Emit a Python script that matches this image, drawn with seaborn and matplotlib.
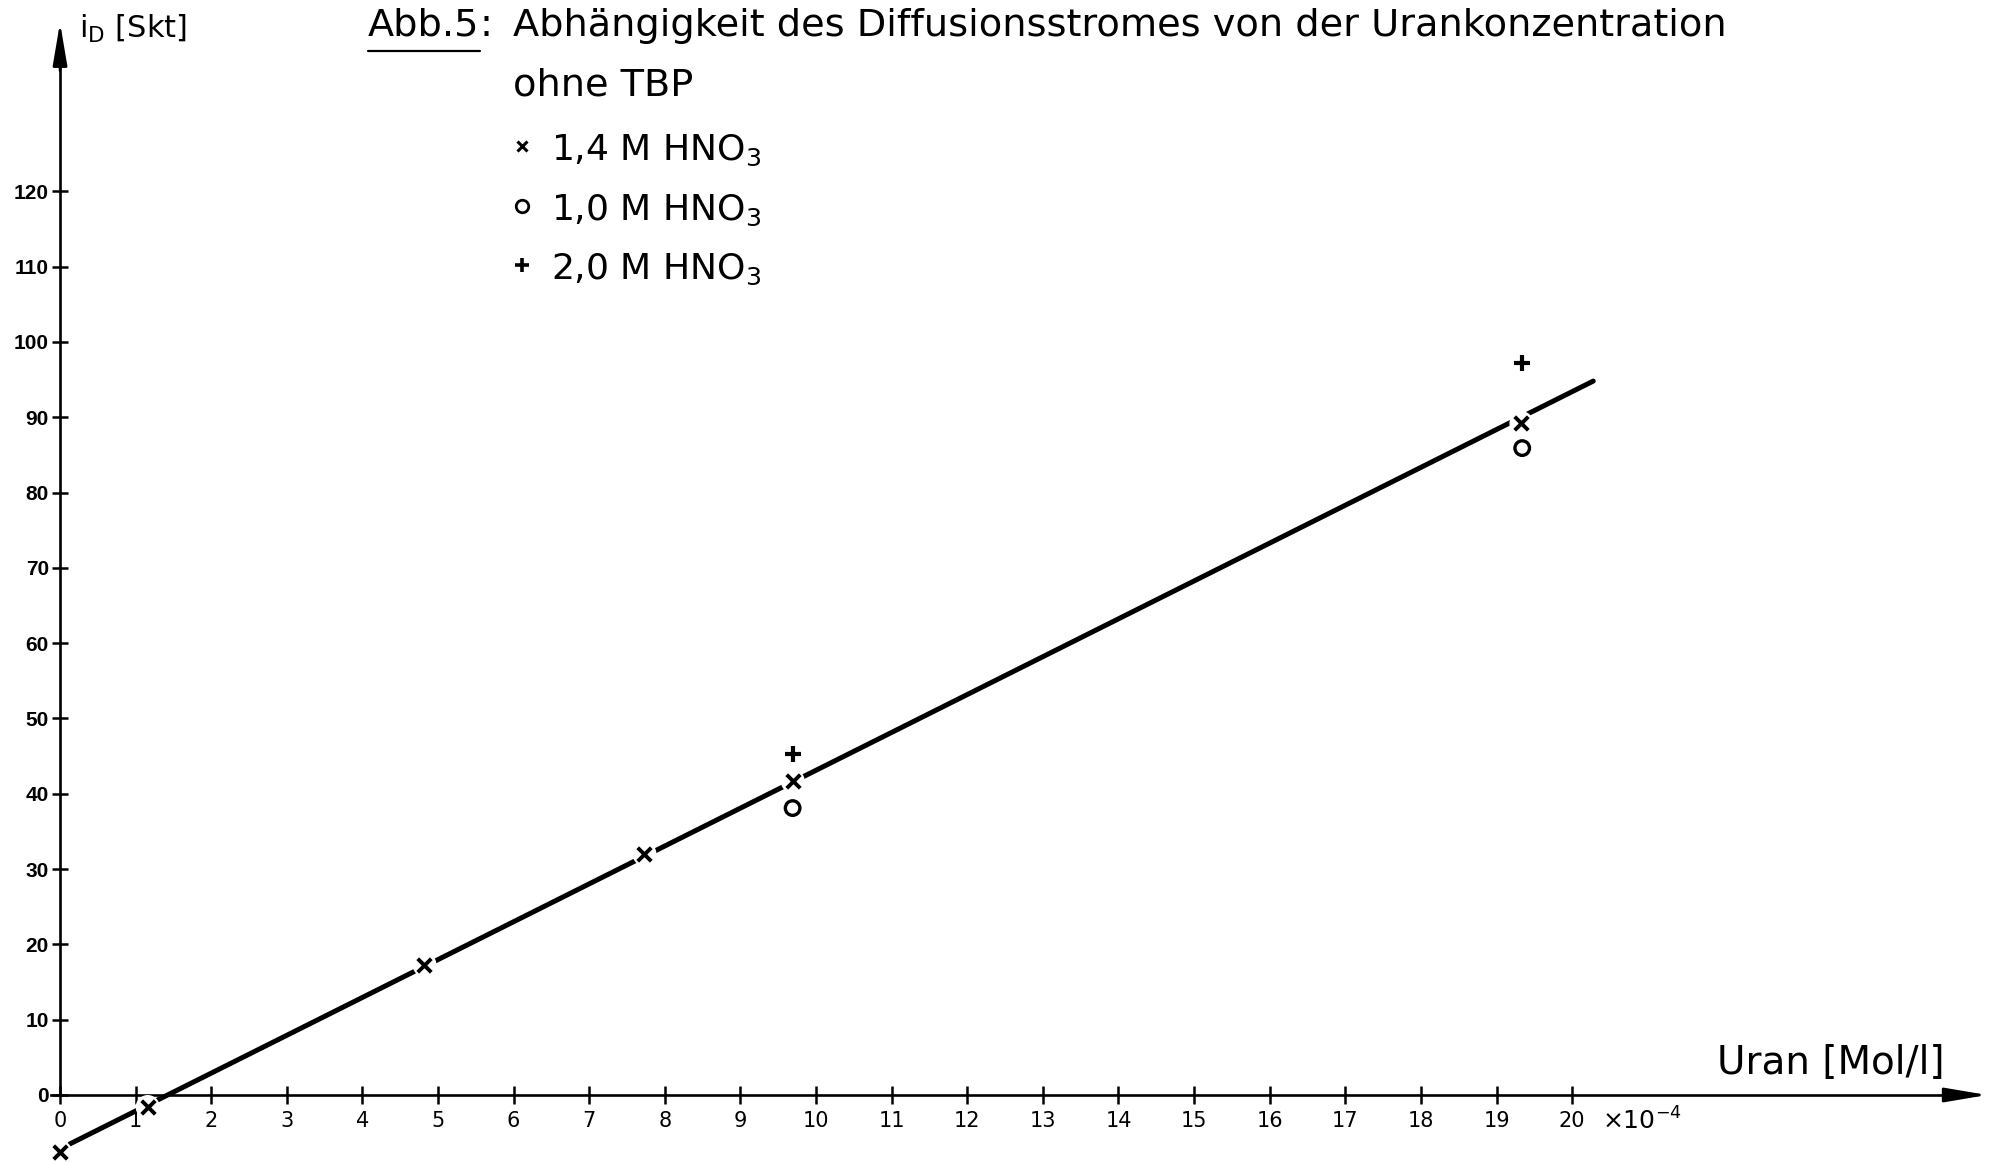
import matplotlib
matplotlib.use("Agg")
import matplotlib.pyplot as plt
import seaborn as sns
from matplotlib.lines import Line2D

# ---------------- data ----------------
x_14 = [0.0, 1.16, 4.82, 7.73, 9.69, 19.33]      # 1,4 M HNO3  (x markers)
y_14 = [-7.6, -1.6, 17.3, 32.0, 41.7, 89.2]
x_10 = [9.69, 19.34]                               # 1,0 M HNO3  (o markers)
y_10 = [38.1, 85.9]
x_20 = [9.69, 19.34]                               # 2,0 M HNO3  (+ markers)
y_20 = [45.3, 97.2]
fit_x = [0.13, 20.28]                              # straight line drawn through the points
fit_y = [-6.5, 94.8]
x_ticks = list(range(0, 21))
y_ticks = list(range(0, 121, 10))
title_prefix = "Abb.5"
title_text = "Abhängigkeit des Diffusionsstromes von der Urankonzentration"
subtitle_text = "ohne TBP"
series_labels = ["1,4 M HNO$_3$", "1,0 M HNO$_3$", "2,0 M HNO$_3$"]
series_markers = ["x", "o", "+"]
y_label = "i$_D$ [Skt]"
x_label = "Uran [Mol/l]"
x_scale_label = "×10$^{-4}$"

# ---------------- style ----------------
sns.set_theme(style="ticks")
FAM = ["DejaVu Sans"]
plt.rcParams["font.family"] = FAM
plt.rcParams["mathtext.default"] = "regular"
plt.rcParams["axes.edgecolor"] = "black"
plt.rcParams["xtick.color"] = "black"
plt.rcParams["ytick.color"] = "black"
plt.rcParams["text.color"] = "black"

W, H = 1997, 1163
fig = plt.figure(figsize=(W / 100, H / 100), dpi=100)
ax = fig.add_axes([0, 0, 1, 1])
ax.set_xlim(-0.794, 25.62)
ax.set_ylim(-9.03, 145.4)

# axes crossing at the origin
for s in ("top", "right"):
    ax.spines[s].set_visible(False)
ax.spines["left"].set_position(("data", 0))
ax.spines["bottom"].set_position(("data", 0))
ax.spines["left"].set_bounds(0, 140)
ax.spines["bottom"].set_bounds(-0.12, 25.2)
ax.spines["left"].set_linewidth(1.9)
ax.spines["bottom"].set_linewidth(1.9)
ax.annotate("", xy=(0, 142.4), xytext=(0, 136),
            arrowprops=dict(arrowstyle="-|>,head_length=1.3,head_width=0.22",
                            color="black", lw=1.9, mutation_scale=20, shrinkA=0, shrinkB=0))
ax.annotate("", xy=(25.49, 0), xytext=(24.9, 0),
            arrowprops=dict(arrowstyle="-|>,head_length=1.3,head_width=0.22",
                            color="black", lw=1.9, mutation_scale=20, shrinkA=0, shrinkB=0))

ax.set_xticks(x_ticks)
ax.set_xticklabels([str(v) for v in x_ticks])
ax.set_yticks(y_ticks)
ax.set_yticklabels([str(v) for v in y_ticks])
ax.tick_params(axis="x", direction="inout", length=13, width=1.8, labelsize=15, pad=5,
               labelcolor="black")
ax.tick_params(axis="y", direction="inout", length=12, width=1.8, labelsize=15, pad=2,
               labelcolor="black")
for lab in ax.get_yticklabels():
    lab.set_fontfamily(["Liberation Sans", "DejaVu Sans"])
    lab.set_fontweight("bold")
ax.set_xlabel("")
ax.set_ylabel("")

# ---------------- data marks ----------------
sns.lineplot(x=fit_x, y=fit_y, color="black", lw=3.6, ax=ax, zorder=2)
# white halos to interrupt the line around the x-markers (as in the drawing)
sns.scatterplot(x=x_14, y=y_14, s=300, color="white", edgecolor="none", ax=ax, zorder=3)
sns.scatterplot(x=x_14, y=y_14, marker="x", s=95, color="black", linewidth=2.8, ax=ax, zorder=4)
sns.scatterplot(x=x_10, y=y_10, marker="o", s=110, color="black", linewidth=2.4, ax=ax, zorder=4)
coll = ax.collections[-1]
coll.set_facecolor("none")
coll.set_edgecolor("black")
sns.scatterplot(x=x_20, y=y_20, marker="+", s=130, color="black", linewidth=3.0, ax=ax, zorder=4)

# ---------------- texts ----------------
def fx(px):
    return px / W

def fy(py):
    return 1 - py / H

TS = 27.5
t_abb = ax.text(fx(368), fy(36), title_prefix, transform=ax.transAxes, fontsize=TS, va="baseline")
fig.canvas.draw()
bb = t_abb.get_window_extent()
ax.text(bb.x1 / W, fy(36), ":", transform=ax.transAxes, fontsize=TS, va="baseline")
fig.add_artist(Line2D([bb.x0 / W, bb.x1 / W], [fy(51), fy(51)], color="black", lw=1.6,
                      transform=fig.transFigure))
ax.text(fx(513), fy(36), title_text, transform=ax.transAxes, fontsize=TS, va="baseline")
ax.text(fx(513), fy(96), subtitle_text, transform=ax.transAxes, fontsize=TS, va="baseline")

leg_marker_y = [146, 206, 265]
leg_text_y = [160, 220, 279]
leg_ms = [7, 9, 10]
leg_mew = [2.2, 2.0, 2.6]
for lab, mk, my, ty, ms, mew in zip(series_labels, series_markers, leg_marker_y, leg_text_y, leg_ms, leg_mew):
    ax.plot([fx(522)], [fy(my)], marker=mk, ms=ms, mew=mew, color="black",
            mfc="none", ls="none", transform=ax.transAxes)
    ax.text(fx(551), fy(ty), lab, transform=ax.transAxes, fontsize=26, va="baseline")

ax.text(fx(79), fy(38), y_label, transform=ax.transAxes, fontsize=22, va="baseline")
ax.text(fx(1717), fy(1074), x_label, transform=ax.transAxes, fontsize=28, va="baseline")
ax.text(fx(1602), fy(1130), x_scale_label, transform=ax.transAxes, fontsize=18, va="baseline")

fig.savefig("out.png", dpi=100, facecolor="white")
